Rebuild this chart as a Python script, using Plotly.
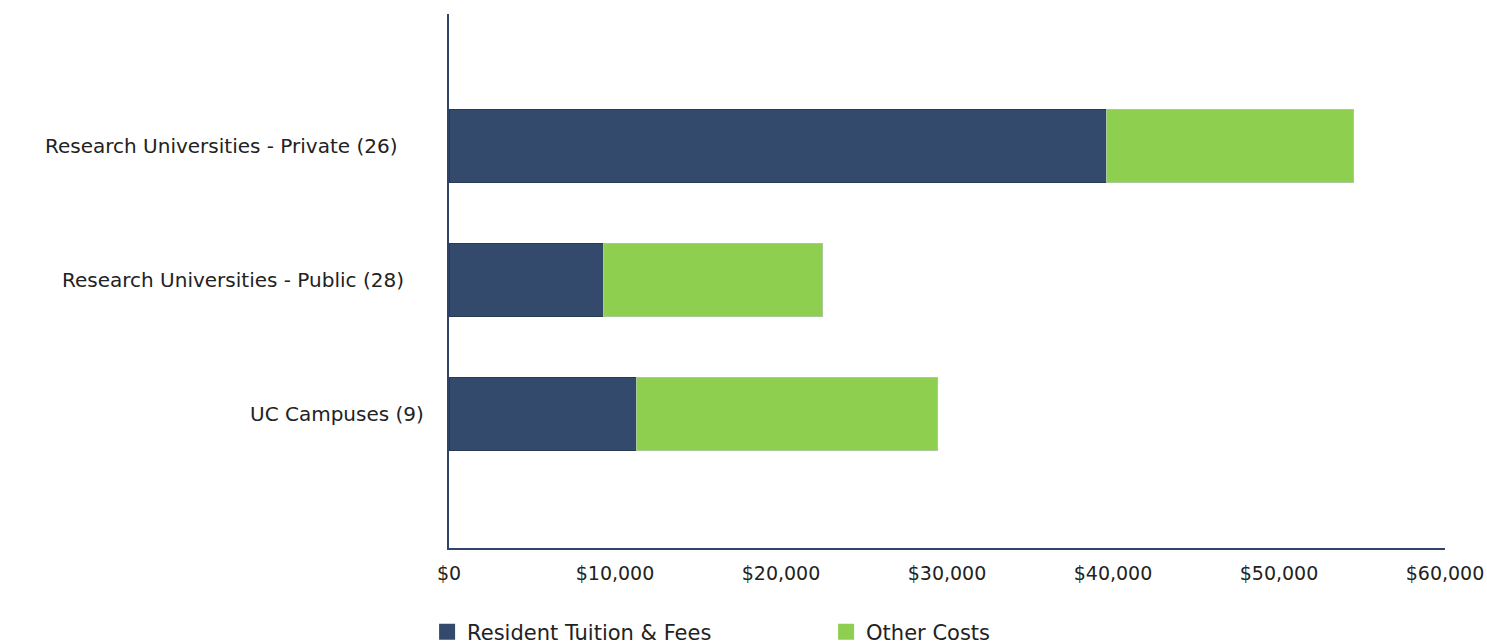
import plotly.graph_objects as go

categories = ["UC Campuses (9)", "Research Universities - Public (28)", "Research Universities - Private (26)"]
tuition = [11300, 9300, 39600]
other = [18100, 13200, 14900]
series_names = ["Resident Tuition & Fees", "Other Costs"]
tick_vals = [0, 10000, 20000, 30000, 40000, 50000, 60000]
tick_text = ["$0", "$10,000", "$20,000", "$30,000", "$40,000", "$50,000", "$60,000"]

label_shift = [-23, -43, -49]  # px offsets of category labels from axis

FONT = "DejaVu Sans"
NAVY = "#344a6d"
GREEN = "#8ecf4f"
colors = [NAVY, GREEN]
edge = ["#2a3b57", "#a9c99a"]

fig = go.Figure()
for vals, name, c, e in zip([tuition, other], series_names, colors, edge):
    fig.add_trace(go.Bar(
        y=categories, x=vals, name=name, orientation="h",
        marker=dict(color=c, line=dict(color=e, width=1)),
        width=0.54, showlegend=False,
    ))
# legend entries with square swatches
for name, c in zip(series_names, colors):
    fig.add_trace(go.Scatter(
        x=[None], y=[None], mode="markers", name=name,
        marker=dict(symbol="square", size=24, color=c),
    ))

for cat, sh in zip(categories, label_shift):
    fig.add_annotation(
        x=0, xref="paper", y=cat, yref="y", text=cat, showarrow=False,
        xanchor="right", xshift=sh, font=dict(family=FONT, size=20, color="#222222"),
    )

fig.update_layout(
    barmode="stack",
    width=1487, height=644,
    margin=dict(l=449, r=42, t=14, b=96, autoexpand=False),
    plot_bgcolor="white", paper_bgcolor="white",
    font=dict(family=FONT, size=18, color="#222222"),
    showlegend=True,
    legend=dict(
        orientation="h", x=-0.022, xanchor="left", y=-0.119, yanchor="top",
        font=dict(family=FONT, size=21, color="#222222"),
        entrywidth=354, entrywidthmode="pixels",
        itemsizing="trace", traceorder="normal",
    ),
)
fig.update_xaxes(
    range=[0, 60000], tickvals=tick_vals, ticktext=tick_text,
    showgrid=False, zeroline=False, automargin=False,
    showline=True, linecolor="#2f4468", linewidth=1.5,
    ticks="", tickfont=dict(family=FONT, size=19, color="#222222"),
    ticklabelstandoff=7,
)
fig.update_yaxes(
    type="category", categoryorder="array", categoryarray=categories,
    range=[-1.0, 2.985], automargin=False,
    showticklabels=False, showgrid=False, zeroline=False,
    showline=True, linecolor="#2f4468", linewidth=1.5, ticks="",
)

fig.write_html(
    "out.html",
    config={"displayModeBar": False},
    post_script="document.body.style.margin='0';document.body.style.overflow='hidden';",
)
